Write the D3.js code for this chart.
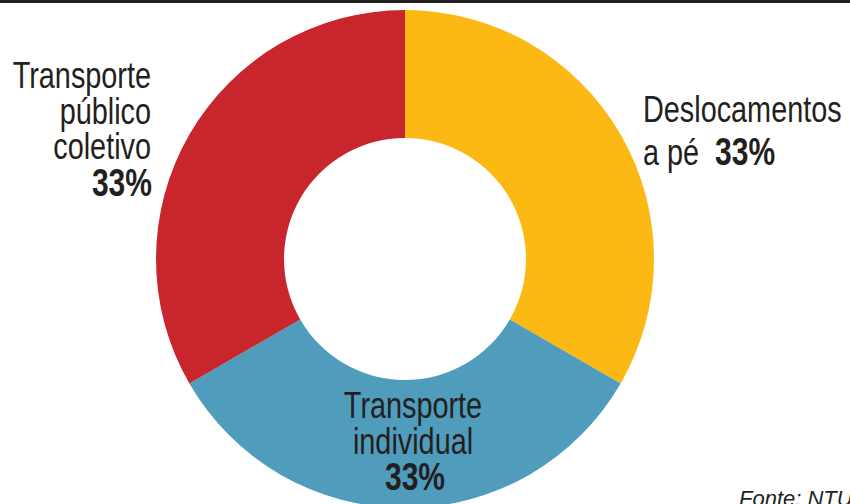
<!DOCTYPE html>
<html>
<head>
<meta charset="utf-8">
<script src="https://cdn.jsdelivr.net/npm/d3@7"></script>
<style>
  body { margin: 0; background: #fff; }
  svg { display: block; }
  text { font-family: "Liberation Sans", Arial, sans-serif; fill: #231f20; }
</style>
</head>
<body>
<div id="chart"></div>
<script>
(function() {
	var width = 850, height = 504;

	// data
	var categories = ["Deslocamentos a pé", "Transporte individual", "Transporte público coletivo"];
	var values = [33, 33, 33];
	var colors = ["#fdb913", "#4f9cbc", "#c9252c"];
	var labelLines = [["Deslocamentos", "a pé"], ["Transporte", "individual"], ["Transporte", "público", "coletivo"]];
	var source = "Fonte: NTU";

	var svg = d3.select("#chart")
		.append("svg")
		.attr("width", width)
		.attr("height", height)

	// top rule
	svg.append("rect")
		.attr("x", 0).attr("y", 0)
		.attr("width", width).attr("height", 3)
		.attr("fill", "#231f20")

	var cx = 405, cy = 259;

	var pie = d3.pie().sort(null).value(function(d) { return d; })
	var arc = d3.arc().innerRadius(121).outerRadius(249)

	var g = svg.append("g").attr("transform", "translate(" + cx + "," + cy + ")")

	g.selectAll(".slice")
		.data(pie(values))
		.enter().append("path")
		.attr("class", "slice")
		.attr("d", arc)
		.attr("fill", function(d, i) { return colors[i]; })

	var fs = 36.5, lh = 35.5, sx = 0.79;

	// condensed text: regular face squeezed horizontally
	function line(x, y, anchor, size) {
		return svg.append("text")
			.attr("transform", "translate(" + x + "," + y + ") scale(" + sx + ",1)")
			.attr("font-size", size || fs)
			.attr("text-anchor", anchor)
	}

	// right label: Deslocamentos a pé 33%
	line(643, 122, "start").text(labelLines[0][0])
	var r = line(643, 165, "start")
	r.append("tspan").text(labelLines[0][1] + "\u00a0\u00a0")
	r.append("tspan").attr("font-weight", "bold").attr("font-size", 38).text(values[0] + "%")

	// bottom label
	labelLines[1].forEach(function(t, i) {
		line(413, 418 + i * lh, "middle").text(t)
	})
	line(415, 418 + 2 * lh + 1, "middle", 38).attr("font-weight", "bold").text(values[1] + "%")

	// left label
	labelLines[2].forEach(function(t, i) {
		line(151, 88 + i * lh, "end").text(t)
	})
	line(152, 88 + 3 * lh + 1, "end", 38).attr("font-weight", "bold").text(values[2] + "%")

	// source
	svg.append("text")
		.attr("x", 739).attr("y", 506)
		.attr("font-size", 22)
		.attr("font-style", "italic")
		.text(source)
})();
</script>
</body>
</html>
